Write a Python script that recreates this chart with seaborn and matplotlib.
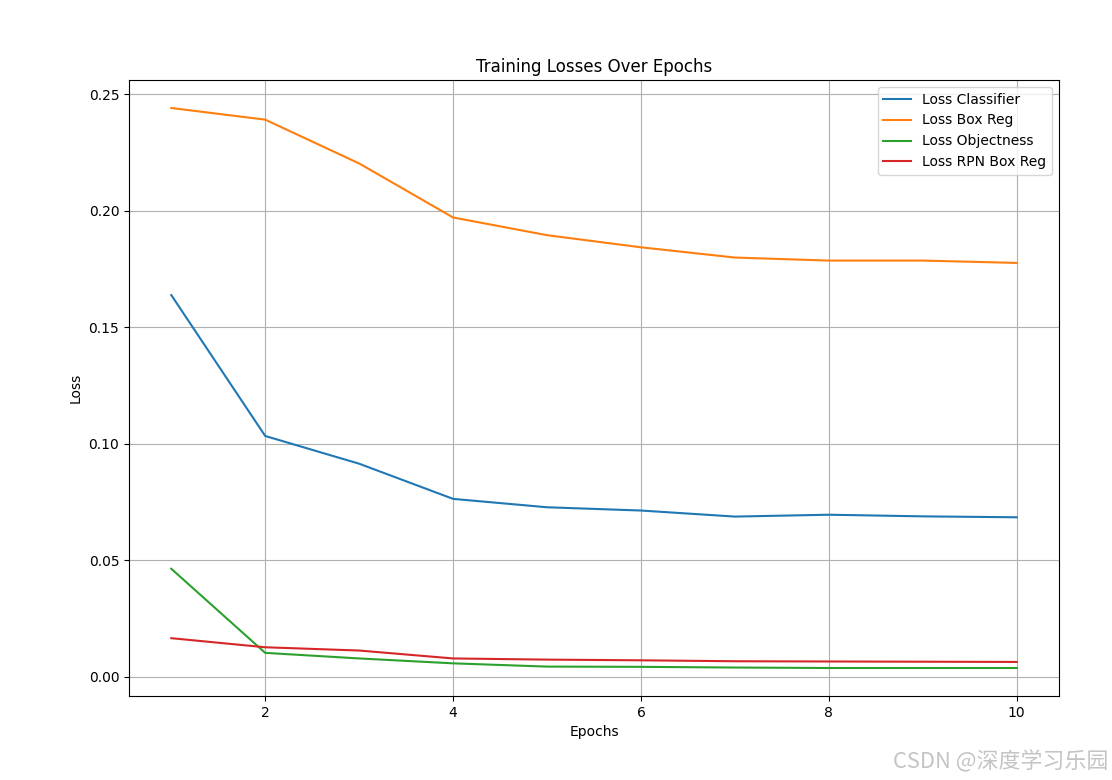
import pandas as pd
import matplotlib
matplotlib.use("Agg")
import matplotlib.pyplot as plt
import seaborn as sns

# Loss values, one per epoch
epochs = [1, 2, 3, 4, 5, 6, 7, 8, 9, 10]
loss_classifier = [0.1638, 0.1033, 0.0914, 0.0763, 0.0727, 0.0713, 0.0687, 0.0695, 0.0688, 0.0684]
loss_box_reg = [0.2441, 0.2391, 0.2203, 0.1971, 0.1895, 0.1843, 0.1799, 0.1786, 0.1786, 0.1776]
loss_objectness = [0.0463, 0.0102, 0.0078, 0.0057, 0.0043, 0.0042, 0.0039, 0.0037, 0.0037, 0.0037]
loss_rpn_box_reg = [0.0165, 0.0126, 0.0112, 0.0078, 0.0073, 0.0070, 0.0066, 0.0065, 0.0064, 0.0063]

series_names = ['Loss Classifier', 'Loss Box Reg', 'Loss Objectness', 'Loss RPN Box Reg']
series_values = [loss_classifier, loss_box_reg, loss_objectness, loss_rpn_box_reg]
colors = sns.color_palette('tab10', 4)

fig = plt.figure(figsize=(11.12, 7.8), dpi=100)
ax = fig.add_axes([129 / 1112, 1 - 696 / 780, 930 / 1112, 616 / 780])

for name, values, color in zip(series_names, series_values, colors):
    df = pd.DataFrame({'Epoch': epochs, 'Loss': values})
    sns.lineplot(data=df, x='Epoch', y='Loss', ax=ax, label=name, color=color, linewidth=1.5)

ax.set_title('Training Losses Over Epochs', fontsize=12)
ax.set_xlabel('Epochs')
ax.set_ylabel('Loss')
ax.set_xticks([2, 4, 6, 8, 10])
ax.set_yticks([0.0, 0.05, 0.10, 0.15, 0.20, 0.25])
ax.yaxis.set_major_formatter(matplotlib.ticker.FormatStrFormatter('%.2f'))
ax.grid(True)
ax.legend(loc='upper right')

# watermark at the bottom right
fig.text(0.997, 0.008, 'CSDN @深度学习乐园', ha='right', va='bottom', fontsize=15.8,
         color='#c4c4c4', family=['Noto Sans CJK SC', 'DejaVu Sans'])

fig.savefig('out.png', dpi=100)
